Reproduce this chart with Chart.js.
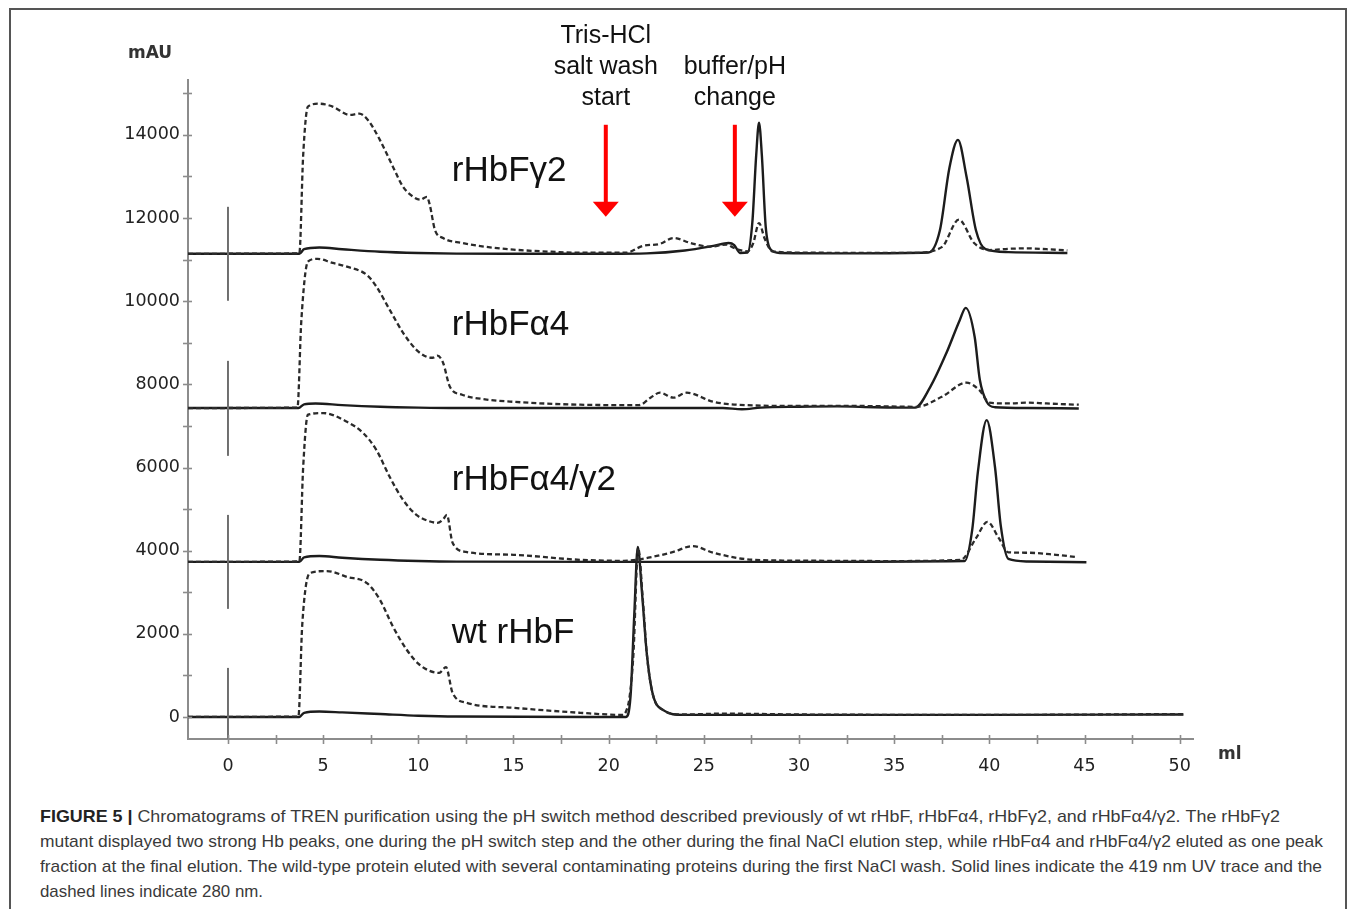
<!DOCTYPE html>
<html>
<head>
<meta charset="utf-8">
<script src="https://cdn.jsdelivr.net/npm/chart.js@4.4.1/dist/chart.umd.min.js"></script>
<style>
  html, body { margin: 0; padding: 0; background: #fff; }
  body { width: 1355px; height: 909px; position: relative; overflow: hidden; }
  #frame { position: absolute; left: 9px; top: 8px; width: 1338px; height: 940px; border: 2px solid #555; box-sizing: border-box; }
  #wrap { position: absolute; left: 0; top: 0; width: 1355px; height: 790px; }
  #caption { position: absolute; left: 40px; top: 804px; font-family: "Liberation Sans Narrow", "Liberation Sans", Arial, sans-serif; font-size: 17px; color: #3a3a3a; line-height: 25px; white-space: nowrap; }
  #caption .ln { display: block; transform-origin: 0 0; }
  #caption b { color: #222; }
</style>
</head>
<body>
<div id="frame"></div>
<div id="wrap"><canvas id="c" width="1355" height="790" style="width:1355px;height:790px"></canvas></div>
<div id="caption">
  <span class="ln" data-w="1240"><b>FIGURE 5 |</b> Chromatograms of TREN purification using the pH switch method described previously of wt rHbF, rHbFα4, rHbFγ2, and rHbFα4/γ2. The rHbFγ2</span>
  <span class="ln" data-w="1283">mutant displayed two strong Hb peaks, one during the pH switch step and the other during the final NaCl elution step, while rHbFα4 and rHbFα4/γ2 eluted as one peak</span>
  <span class="ln" data-w="1282">fraction at the final elution. The wild-type protein eluted with several contaminating proteins during the first NaCl wash. Solid lines indicate the 419 nm UV trace and the</span>
  <span class="ln" data-w="223">dashed lines indicate 280 nm.</span>
</div>
<script>
// ---------- axis ticks ----------
const xTicks = [0, 2.5, 5, 7.5, 10, 12.5, 15, 17.5, 20, 22.5, 25, 27.5, 30, 32.5, 35, 37.5, 40, 42.5, 45, 47.5, 50];
const xLabelTicks = [0, 5, 10, 15, 20, 25, 30, 35, 40, 45, 50];
const yTicks = [0, 1000, 2000, 3000, 4000, 5000, 6000, 7000, 8000, 9000, 10000, 11000, 12000, 13000, 14000, 15000];
const yLabelTicks = [0, 2000, 4000, 6000, 8000, 10000, 12000, 14000];

// ---------- rHbFγ2 (top trace) ----------
const g2DashX = [-2.1, 3.75, 3.95, 4.2, 4.8, 5.5, 6.4, 6.9, 7.35, 7.98, 8.67, 9.2, 9.73, 10.1, 10.45, 10.6, 10.87, 11.3, 12.3, 13.5, 15, 17, 18.5, 20.9, 21.8, 22.7, 23.4, 24.3, 25.3, 26.2, 26.5, 26.9, 27.3, 27.6, 27.9, 28.2, 28.6, 30, 33, 36, 37.5, 38.4, 39.2, 40, 41, 42, 43, 44.1];
const g2DashY = [11140, 11150, 13500, 14680, 14750, 14680, 14480, 14510, 14360, 13880, 13230, 12750, 12510, 12440, 12510, 12320, 11720, 11520, 11400, 11310, 11240, 11190, 11165, 11165, 11330, 11380, 11520, 11400, 11310, 11360, 11300, 11230, 11200, 11400, 11880, 11500, 11200, 11170, 11160, 11160, 11300, 11960, 11400, 11230, 11260, 11270, 11250, 11220];
const g2SolidX = [-2.1, 3.75, 4.0, 4.8, 6, 8, 10, 12, 15, 20, 22, 24, 25.5, 26.3, 26.6, 26.9, 27.3, 27.55, 27.75, 27.9, 28.05, 28.25, 28.5, 29, 33, 36.8, 37.4, 37.9, 38.35, 38.8, 39.3, 39.8, 41, 44.1];
const g2SolidY = [11140, 11140, 11250, 11290, 11250, 11190, 11160, 11145, 11140, 11140, 11150, 11220, 11330, 11400, 11350, 11160, 11170, 11900, 13500, 14290, 13500, 11800, 11250, 11160, 11150, 11170, 11700, 13200, 13880, 13000, 11700, 11250, 11180, 11160];

// ---------- rHbFα4 ----------
const a4DashX = [-2.1, 3.65, 3.85, 4.2, 4.7, 5.5, 6.25, 7.3, 7.8, 8.5, 9.2, 9.9, 10.45, 10.75, 11.0, 11.3, 11.66, 12.3, 13.5, 15, 18.5, 21.6, 22.2, 22.7, 23.4, 24.1, 25.5, 27.2, 30, 33, 36.2, 37.5, 38.8, 39.5, 40.0, 41, 42, 43, 44.7];
const a4DashY = [7430, 7440, 9500, 10950, 11020, 10920, 10830, 10630, 10350, 9790, 9240, 8830, 8660, 8640, 8690, 8520, 7940, 7750, 7640, 7580, 7510, 7500, 7680, 7800, 7680, 7800, 7580, 7500, 7480, 7480, 7460, 7700, 8040, 7850, 7560, 7540, 7560, 7540, 7510];
const a4SolidX = [-2.1, 3.7, 4.0, 4.6, 6, 8, 10, 12, 20, 26, 27, 28, 30, 32, 34, 36.1, 36.9, 37.75, 38.45, 38.76, 39.23, 39.5, 39.86, 40.3, 42, 44.7];
const a4SolidY = [7430, 7430, 7520, 7540, 7500, 7460, 7440, 7430, 7430, 7430, 7400, 7440, 7460, 7470, 7450, 7440, 7940, 8760, 9550, 9840, 9140, 8110, 7580, 7450, 7430, 7420];

// ---------- rHbFα4/γ2 ----------
const agDashX = [-2.1, 3.75, 3.95, 4.2, 5.0, 6.25, 7.1, 7.8, 8.5, 9.2, 9.9, 10.5, 11.0, 11.3, 11.5, 11.8, 12.5, 15, 18.5, 20.8, 22.3, 23.4, 24.4, 25.5, 27.6, 30, 35, 38.5, 39.3, 39.9, 40.5, 41.0, 42, 43.5, 44.5];
const agDashY = [3730, 3740, 6000, 7270, 7310, 7100, 6830, 6420, 5770, 5220, 4860, 4720, 4670, 4750, 4860, 4190, 3970, 3900, 3780, 3755, 3850, 3970, 4110, 3950, 3780, 3760, 3750, 3780, 4300, 4690, 4300, 3960, 3950, 3900, 3850];
const agSolidX = [-2.1, 3.75, 4.0, 4.8, 6, 8, 10, 12, 20, 30, 38.7, 39.1, 39.4, 39.86, 40.3, 40.6, 41.0, 42, 45.1];
const agSolidY = [3730, 3730, 3840, 3870, 3830, 3780, 3750, 3735, 3730, 3730, 3750, 4500, 5900, 7140, 6000, 4600, 3800, 3740, 3720];

// ---------- wt rHbF ----------
const wtDashX = [-2.1, 3.7, 3.9, 4.3, 5.2, 6.25, 7.3, 7.98, 8.67, 9.4, 10.08, 11.1, 11.45, 11.8, 12.55, 15, 18.5, 20.75, 20.9, 21.1, 21.3, 21.55, 21.8, 22.0, 22.3, 22.85, 23.9, 26, 30, 40, 50.2];
const wtDashY = [0, 10, 2200, 3460, 3510, 3370, 3220, 2820, 2170, 1610, 1250, 1060, 1200, 580, 340, 220, 100, 50, 120, 480, 1500, 4060, 2800, 1540, 580, 170, 60, 80, 60, 50, 70];
const wtSolidX = [-2.1, 3.75, 4.0, 4.8, 6, 8, 10, 12, 20.9, 21.15, 21.35, 21.53, 21.75, 22.0, 22.3, 22.85, 23.9, 30, 40, 50.2];
const wtSolidY = [0, 0, 100, 130, 110, 70, 30, 10, 0, 500, 2500, 4090, 3000, 1540, 580, 170, 50, 50, 50, 60];

// ---------- injection markers (x = 0) ----------
const injectLow  = [10010, 6280, 2600, -600];
const injectHigh = [12270, 8565, 4860, 1180];

// ---------- text ----------
const traceNames = ['rHbFγ2', 'rHbFα4', 'rHbFα4/γ2', 'wt rHbF'];

const pts = (xs, ys) => xs.map((x, i) => ({ x: x, y: ys[i] }));

const solidStyle = { borderColor: '#1c1c1c', borderWidth: 2.4, pointRadius: 0, fill: false, cubicInterpolationMode: 'monotone' };
const dashStyle = { borderColor: '#2a2a2a', borderWidth: 2.3, borderDash: [5, 3], pointRadius: 0, fill: false, cubicInterpolationMode: 'monotone' };

const datasets = [];
injectLow.forEach((lo, i) => {
  datasets.push({ data: [{ x: 0, y: lo }, { x: 0, y: injectHigh[i] }], borderColor: '#6e6e6e', borderWidth: 2, pointRadius: 0, fill: false });
});
[[g2DashX, g2DashY], [a4DashX, a4DashY], [agDashX, agDashY], [wtDashX, wtDashY]].forEach(p => datasets.push(Object.assign({ data: pts(p[0], p[1]) }, dashStyle)));
[[g2SolidX, g2SolidY], [a4SolidX, a4SolidY], [agSolidX, agSolidY], [wtSolidX, wtSolidY]].forEach(p => datasets.push(Object.assign({ data: pts(p[0], p[1]) }, solidStyle)));

const annotations = {
  nameX: 11.76,
  nameY: [13112, 9431, 5702, 2021],
  arrows: [
    { x: 19.85, top: 14243, headBase: 12390, tip: 12029, lines: ['Tris-HCl', 'salt wash', 'start'] },
    { x: 26.63, top: 14243, headBase: 12390, tip: 12029, lines: ['buffer/pH', 'change'] }
  ]
};

const decor = {
  id: 'decor',
  afterDraw(chart) {
    const ctx = chart.ctx, xs = chart.scales.x, ys = chart.scales.y, area = chart.chartArea;
    ctx.save();
    // crossing tick marks
    ctx.strokeStyle = '#8c8c8c'; ctx.lineWidth = 1.6;
    xTicks.forEach(v => { const p = Math.round(xs.getPixelForValue(v)) + 0.5; ctx.beginPath(); ctx.moveTo(p, area.bottom - 4); ctx.lineTo(p, area.bottom + 5); ctx.stroke(); });
    yTicks.forEach(v => { const p = Math.round(ys.getPixelForValue(v)) + 0.5; ctx.beginPath(); ctx.moveTo(area.left - 5, p); ctx.lineTo(area.left + 4, p); ctx.stroke(); });
    // axis unit labels
    ctx.fillStyle = '#333';
    ctx.font = 'bold 17px "DejaVu Sans"';
    ctx.textBaseline = 'middle'; ctx.textAlign = 'left';
    ctx.fillText('mAU', area.left - 60, 54);
    ctx.fillText('ml', area.right + 25, 755);
    // trace names
    ctx.fillStyle = '#111';
    ctx.font = '35px "Liberation Sans"';
    traceNames.forEach((t, i) => ctx.fillText(t, xs.getPixelForValue(annotations.nameX), ys.getPixelForValue(annotations.nameY[i])));
    // arrows + their captions
    annotations.arrows.forEach(a => {
      const px = xs.getPixelForValue(a.x);
      const yTop = ys.getPixelForValue(a.top), yBase = ys.getPixelForValue(a.headBase), yTip = ys.getPixelForValue(a.tip);
      ctx.fillStyle = '#ff0000';
      ctx.fillRect(px - 2, yTop, 4, yBase - yTop + 1);
      ctx.beginPath(); ctx.moveTo(px - 13, yBase); ctx.lineTo(px + 13, yBase); ctx.lineTo(px, yTip); ctx.closePath(); ctx.fill();
      ctx.fillStyle = '#111';
      ctx.font = '25px "Liberation Sans"';
      ctx.textAlign = 'center';
      const n = a.lines.length;
      a.lines.forEach((l, k) => ctx.fillText(l, px, 98 - (n - 1 - k) * 31));
      ctx.textAlign = 'left';
    });
    ctx.restore();
  }
};

new Chart(document.getElementById('c'), {
  type: 'line',
  data: { datasets: datasets },
  options: {
    responsive: false,
    animation: false,
    parsing: true,
    layout: { padding: { top: 80, right: 162, bottom: 0, left: 0 } },
    plugins: { legend: { display: false }, tooltip: { enabled: false } },
    elements: { line: { tension: 0 } },
    scales: {
      x: {
        type: 'linear', min: -2.1, max: 50.7,
        afterFit: s => { s.height = 51; },
        afterBuildTicks: s => { s.ticks = xTicks.map(v => ({ value: v })); },
        grid: { display: true, drawOnChartArea: false, drawTicks: false, color: '#8c8c8c' },
        border: { display: true, color: '#8c8c8c', width: 2 },
        ticks: { padding: 17, autoSkip: false, maxRotation: 0, color: '#222', font: { family: 'DejaVu Sans', size: 17.5 },
          callback: v => xLabelTicks.includes(v) ? String(v) : '' }
      },
      y: {
        type: 'linear', min: -530, max: 15320,
        afterFit: s => { s.width = 188; },
        afterBuildTicks: s => { s.ticks = yTicks.map(v => ({ value: v })); },
        grid: { display: true, drawOnChartArea: false, drawTicks: false, color: '#8c8c8c' },
        border: { display: true, color: '#8c8c8c', width: 2 },
        ticks: { padding: 8, autoSkip: false, color: '#222', font: { family: 'DejaVu Sans', size: 17.5 },
          callback: v => yLabelTicks.includes(v) ? String(v) : '' }
      }
    }
  },
  plugins: [decor]
});

// fit caption lines to the reference widths
document.querySelectorAll('#caption .ln').forEach(el => {
  const w = +el.dataset.w;
  el.style.display = 'inline-block';
  const nat = el.getBoundingClientRect().width;
  el.style.display = 'block';
  if (w > 0 && nat > 0) el.style.transform = 'scaleX(' + (w / nat).toFixed(4) + ')';
});
</script>
</body>
</html>
